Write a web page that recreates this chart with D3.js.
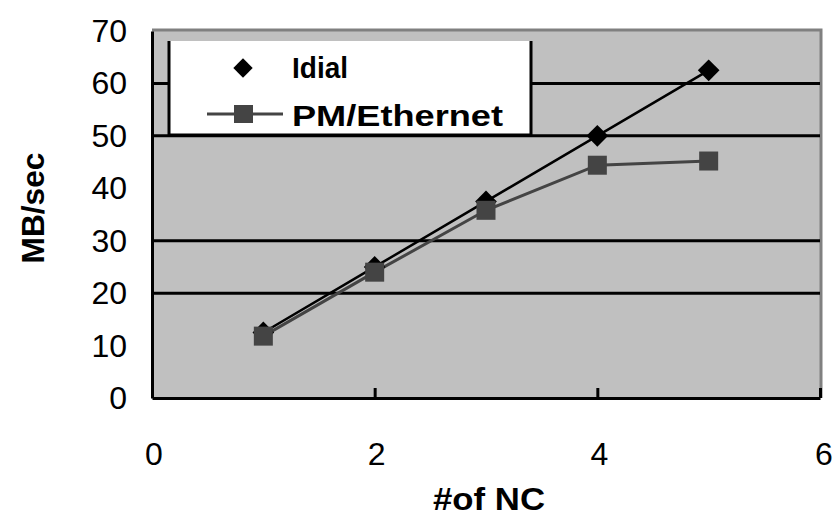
<!DOCTYPE html>
<html>
<head>
<meta charset="utf-8">
<script src="https://cdn.jsdelivr.net/npm/d3@7"></script>
<style>
  html, body { margin: 0; padding: 0; background: #fff; }
  text { font-family: "Liberation Sans", Arial, sans-serif; fill: #000; }
</style>
</head>
<body>
<svg id="chart" width="837" height="517"></svg>
<script>
// Throughput versus number of network cards
const nodes = [1, 2, 3, 4, 5];
const idealValues = [12.5, 25, 37.5, 50, 62.5];
const pmEthernetValues = [11.8, 24, 35.8, 44.4, 45.2];
const xTicks = [0, 2, 4, 6];
const yTicks = [0, 10, 20, 30, 40, 50, 60, 70];
const gridValues = [20, 30, 50, 60];
const seriesNames = ["Idial", "PM/Ethernet"];
const xTitle = "#of NC";
const yTitle = "MB/sec";

const svg = d3.select("#chart");
const plot = { left: 152, right: 820, top: 31, bottom: 398 };

const x = d3.scaleLinear().domain([0, 6]).range([plot.left, plot.right]);
const y = d3.scaleLinear().domain([0, 70]).range([plot.bottom, plot.top]);

// plot background
svg.append("rect")
  .attr("x", plot.left).attr("y", plot.top)
  .attr("width", plot.right - plot.left).attr("height", plot.bottom - plot.top)
  .attr("fill", "#c0c0c0");

// top and right frame in grey
svg.append("path")
  .attr("d", `M${plot.left},${plot.top - 1}H${plot.right + 1}V${plot.bottom}`)
  .attr("fill", "none").attr("stroke", "#808080").attr("stroke-width", 3);

// horizontal gridlines
svg.append("g").selectAll("line").data(gridValues).join("line")
  .attr("x1", plot.left).attr("x2", plot.right)
  .attr("y1", d => y(d)).attr("y2", d => y(d))
  .attr("stroke", "#000").attr("stroke-width", 3);

// x axis with inward ticks
const xAxis = svg.append("g")
  .attr("transform", `translate(0,${plot.bottom})`)
  .call(d3.axisBottom(x).tickValues(xTicks).tickSizeInner(-10).tickSizeOuter(0).tickFormat(""));
xAxis.select(".domain").attr("stroke", "#000").attr("stroke-width", 3);
xAxis.selectAll(".tick line").attr("stroke", "#000").attr("stroke-width", 3);

// y axis line
const yAxis = svg.append("g")
  .attr("transform", `translate(${plot.left},0)`)
  .call(d3.axisLeft(y).tickValues(yTicks).tickSize(0).tickFormat(""));
yAxis.select(".domain").attr("stroke", "#000").attr("stroke-width", 3);

// tick labels
svg.append("g").selectAll("text").data(yTicks).join("text")
  .attr("x", 127).attr("y", d => y(d) + 11)
  .attr("text-anchor", "end")
  .attr("font-size", 32)
  .text(d => d);

svg.append("g").selectAll("text").data(xTicks).join("text")
  .attr("x", d => x(d) + (d === 6 ? 4 : 2)).attr("y", 465)
  .attr("text-anchor", "middle")
  .attr("font-size", 32)
  .text(d => d);

// axis titles
svg.append("text")
  .attr("x", 433).attr("y", 510)
  .attr("font-size", 32).attr("font-weight", "bold")
  .attr("textLength", 112).attr("lengthAdjust", "spacingAndGlyphs")
  .text(xTitle);

svg.append("text")
  .attr("transform", "translate(44,208) rotate(-90)")
  .attr("text-anchor", "middle")
  .attr("font-size", 32).attr("font-weight", "bold")
  .attr("textLength", 111).attr("lengthAdjust", "spacingAndGlyphs")
  .text(yTitle);

// series lines
const line = d3.line().x(d => x(d[0])).y(d => y(d[1]));
const idealPts = nodes.map((n, i) => [n, idealValues[i]]);
const pmPts = nodes.map((n, i) => [n, pmEthernetValues[i]]);

svg.append("path").datum(pmPts)
  .attr("d", line).attr("fill", "none")
  .attr("stroke", "#444").attr("stroke-width", 3);

svg.append("path").datum(idealPts)
  .attr("d", line).attr("fill", "none")
  .attr("stroke", "#000").attr("stroke-width", 2.5);

// markers
const diamond = d3.symbol().type(d3.symbolDiamond2).size(300);
svg.append("g").selectAll("path").data(idealPts).join("path")
  .attr("transform", d => `translate(${x(d[0])},${y(d[1])})`)
  .attr("d", diamond).attr("fill", "#000");

svg.append("g").selectAll("rect").data(pmPts).join("rect")
  .attr("x", d => x(d[0]) - 9.5).attr("y", d => y(d[1]) - 9.5)
  .attr("width", 19).attr("height", 19)
  .attr("fill", "#444");

// legend
const legend = svg.append("g");
legend.append("rect")
  .attr("x", 168).attr("y", 41).attr("width", 364).attr("height", 94)
  .attr("fill", "#fff");
legend.append("path")
  .attr("d", "M169,41V135H531V41")
  .attr("fill", "none").attr("stroke", "#000").attr("stroke-width", 3);

legend.append("path")
  .attr("transform", "translate(243,68)")
  .attr("d", d3.symbol().type(d3.symbolDiamond2).size(240))
  .attr("fill", "#000");
legend.append("line")
  .attr("x1", 207).attr("x2", 283).attr("y1", 114).attr("y2", 114)
  .attr("stroke", "#444").attr("stroke-width", 3);
legend.append("rect")
  .attr("x", 234).attr("y", 105).attr("width", 19).attr("height", 18)
  .attr("fill", "#444");

legend.append("text")
  .attr("x", 292).attr("y", 78)
  .attr("font-size", 29).attr("font-weight", "bold")
  .attr("textLength", 56).attr("lengthAdjust", "spacingAndGlyphs")
  .text(seriesNames[0]);
legend.append("text")
  .attr("x", 292).attr("y", 126)
  .attr("font-size", 29).attr("font-weight", "bold")
  .attr("textLength", 211).attr("lengthAdjust", "spacingAndGlyphs")
  .text(seriesNames[1]);
</script>
</body>
</html>
